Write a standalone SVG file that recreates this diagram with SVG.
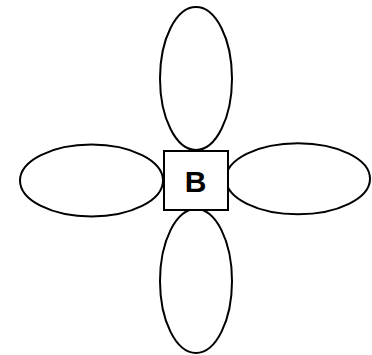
<svg xmlns="http://www.w3.org/2000/svg" width="372" height="355" viewBox="0 0 372 355">
<style>
.s{fill:#fff;stroke:#000;stroke-width:2}
.t{font-family:"Liberation Sans",Arial,sans-serif;font-weight:bold;font-size:30px;fill:#000;text-anchor:middle}
</style>
<rect width="372" height="355" fill="#fff"/>
<g id="connectors"></g>
<g id="top"><ellipse class="s" cx="196" cy="78.5" rx="36" ry="71.5"/></g>
<g id="left"><ellipse class="s" cx="91.5" cy="180.5" rx="71.5" ry="36"/></g>
<g id="right"><ellipse class="s" cx="298" cy="178.8" rx="72" ry="35.5"/></g>
<g id="bottom"><ellipse class="s" cx="196" cy="281" rx="36" ry="72"/></g>
<g id="B"><rect class="s" x="164" y="151" width="64" height="59"/><text class="t" x="195.5" y="191.5">B</text></g>
</svg>
